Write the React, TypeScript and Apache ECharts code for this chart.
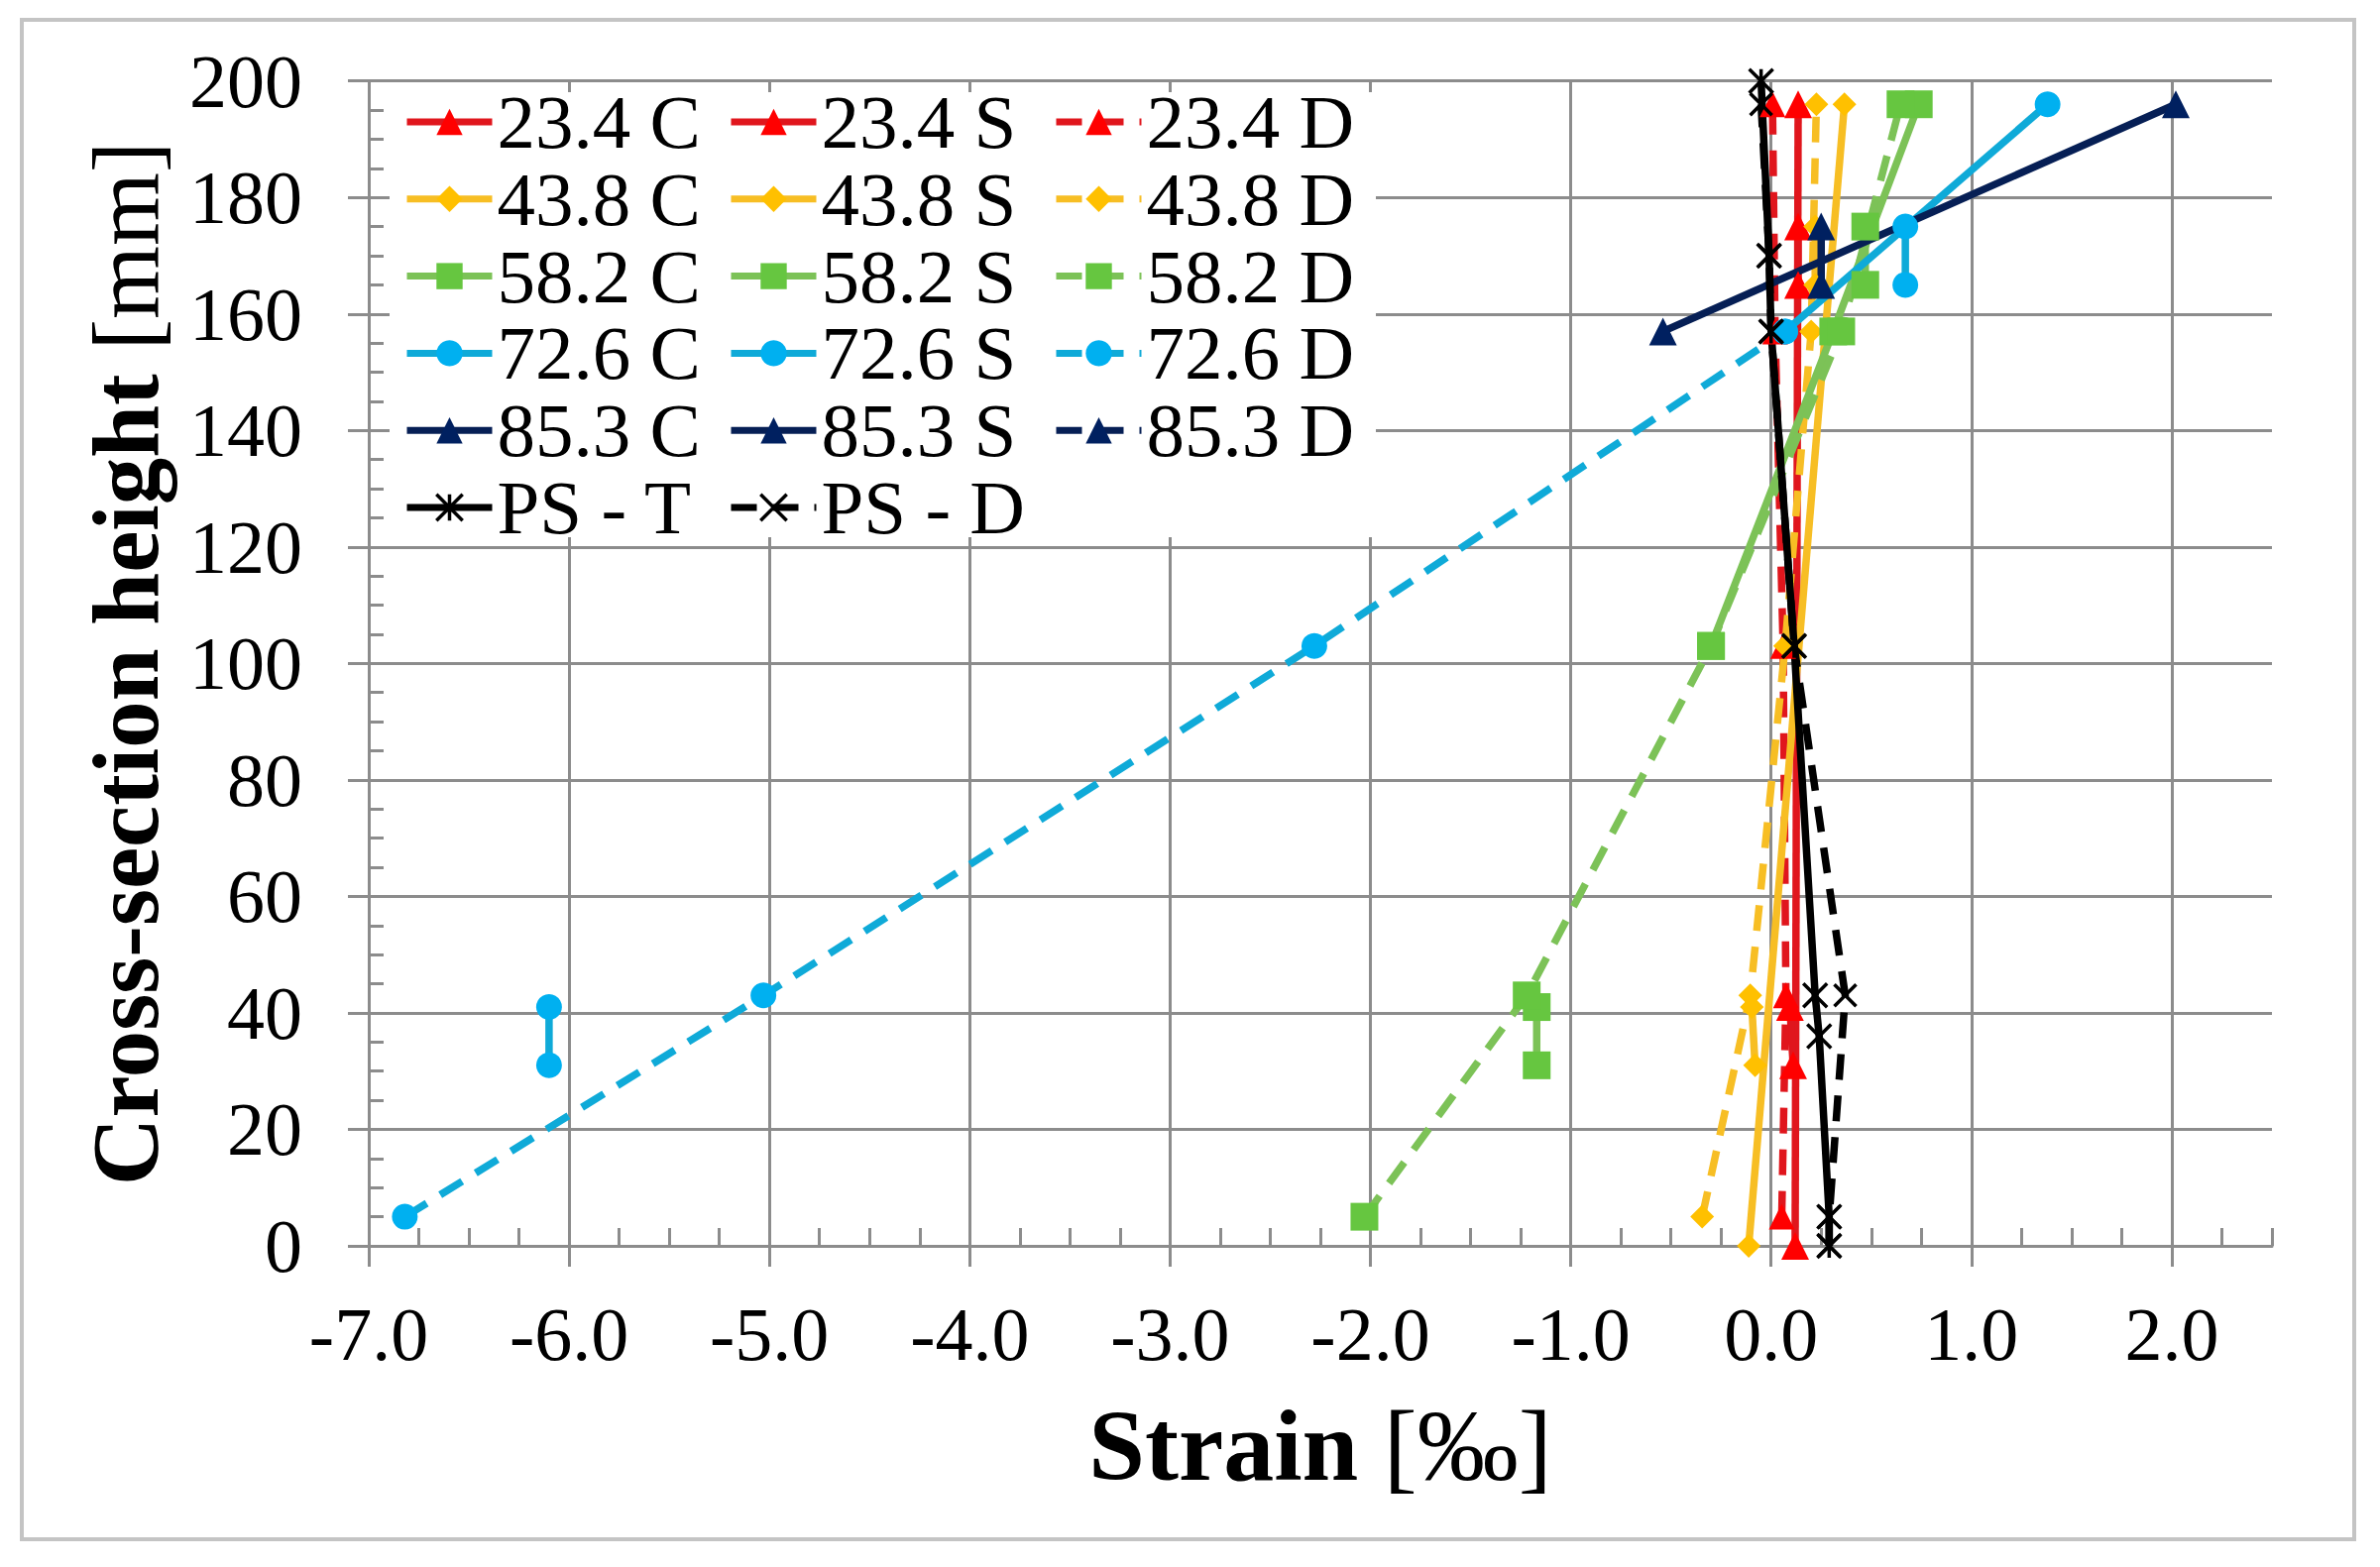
import React, { useEffect, useRef } from "react";
import * as echarts from "echarts";

const FONT = "'Liberation Serif', 'Times New Roman', Times, serif";

// axis ranges and tick labels
const X_MIN = -7;
const X_MAX = 2.5;
const Y_MIN = 0;
const Y_MAX = 200;
const X_MAJOR_TICKS = [-7, -6, -5, -4, -3, -2, -1, 0, 1, 2];

// cross-section heights [mm]
const H_C_FULL = [0, 196];
const H_C_58 = [103, 157, 196];
const H_C_TOP = [157, 196];
const H_S_BOTTOM = [31, 41];
const H_S_TOP = [165, 175];
const H_D = [5, 43, 103, 157, 196];
const H_D_72 = [5, 43, 103, 157];
const H_D_85: number[] = [];
const H_PS_T = [0, 5, 36, 43, 103, 157, 170, 200];
const H_PS_D = [0, 5, 43, 103, 157, 170, 196];

// strains [‰]
const E_23_C = [0.12, 0.135];
const E_23_S_BOTTOM = [0.11, 0.094];
const E_23_S_TOP = [0.135, 0.135];
const E_23_D = [0.053, 0.074, 0.06, 0.02, 0.007];

const E_43_C = [-0.112, 0.366];
const E_43_S_BOTTOM = [-0.08, -0.096];
const E_43_S_TOP = [0.22, 0.22];
const E_43_D = [-0.344, -0.104, 0.07, 0.2, 0.226];

const E_58_C = [-0.3, 0.31, 0.737];
const E_58_S_BOTTOM = [-1.17, -1.17];
const E_58_S_TOP = [0.47, 0.47];
const E_58_D = [-2.03, -1.22, -0.3, 0.35, 0.646];

const E_72_C = [0.07, 1.38];
const E_72_S_BOTTOM = [-6.1, -6.1];
const E_72_S_TOP = [0.67, 0.67];
const E_72_D = [-6.82, -5.03, -2.28, 0.07];

const E_85_C = [-0.54, 2.02];
const E_85_S_TOP = [0.25, 0.25];
const E_85_D: number[] = [];

const E_PS_T = [0.29, 0.29, 0.24, 0.22, 0.115, 0.0, -0.01, -0.05];
const E_PS_D = [0.29, 0.29, 0.37, 0.115, 0.0, -0.01, -0.05];

// legend columns
const LEGEND_COL_1 = ["23.4 C", "43.8 C", "58.2 C", "72.6 C", "85.3 C", "PS - T"];
const LEGEND_COL_2 = ["23.4 S", "43.8 S", "58.2 S", "72.6 S", "85.3 S", "PS - D"];
const LEGEND_COL_3 = ["23.4 D", "43.8 D", "58.2 D", "72.6 D", "85.3 D"];

const RED = "#E0161D";
const RED_M = "#FF0000";
const ORANGE = "#F7BE24";
const ORANGE_M = "#FFC000";
const GREEN = "#7CC257";
const GREEN_M = "#66C640";
const CYAN = "#0FAAD8";
const CYAN_M = "#00B0F0";
const NAVY = "#061F55";
const NAVY_M = "#002060";
const BLACK = "#000000";
const GRID = "#8C8C8C";
const LINE_W = 7.5;
const DASH = [26, 16];

const STAR = "path://M0,0L10,10M10,0L0,10M5,0L5,10";
const CROSS = "path://M0,0L10,10M10,0L0,10";

// one colour per vertical grid line (-7 ... 2, then the 2.5 edge, which stays invisible)
const X_SPLIT_COLORS = [...X_MAJOR_TICKS.map(() => GRID), "rgba(0,0,0,0)"];

function pts(xs: number[], ys: number[]) {
  return xs.map((x, i) => [x, ys[i]]);
}

function mk(
  name: string,
  color: string,
  mcolor: string,
  symbol: string,
  size: number,
  dashed: boolean,
  data: number[][],
  stroked = false
) {
  return {
    type: "line",
    name,
    data,
    symbol,
    symbolSize: size,
    showSymbol: true,
    silent: true,
    lineStyle: { color, width: LINE_W, type: dashed ? DASH : "solid" },
    itemStyle: stroked
      ? { color: mcolor, borderColor: mcolor, borderWidth: 3.5 }
      : { color: mcolor },
    emphasis: { disabled: true },
    xAxisIndex: 0,
    yAxisIndex: 0,
  };
}

function legendCol(left: number, data: string[]) {
  return {
    orient: "vertical",
    left,
    top: 84.5,
    padding: 0,
    itemWidth: 86,
    itemHeight: 33,
    itemGap: 0.8,
    selectedMode: false,
    data,
    lineStyle: { width: 7 },
    itemStyle: { borderWidth: "inherit" },
    textStyle: { fontFamily: FONT, fontSize: 77, color: "#000", lineHeight: 77 },
  };
}

export default function App() {
  const ref = useRef<HTMLDivElement>(null);

  useEffect(() => {
    if (!ref.current) return;
    const chart = echarts.init(ref.current, null, { renderer: "svg" });

    const series = [
      mk("23.4 C", RED, RED_M, "triangle", 28, false, pts(E_23_C, H_C_FULL)),
      mk("23.4 S", RED, RED_M, "triangle", 28, false, pts(E_23_S_BOTTOM, H_S_BOTTOM)),
      mk("23.4 S", RED, RED_M, "triangle", 28, false, pts(E_23_S_TOP, H_S_TOP)),
      mk("23.4 D", RED, RED_M, "triangle", 26, true, pts(E_23_D, H_D)),
      mk("43.8 C", ORANGE, ORANGE_M, "diamond", 24, false, pts(E_43_C, H_C_FULL)),
      mk("43.8 S", ORANGE, ORANGE_M, "diamond", 24, false, pts(E_43_S_BOTTOM, H_S_BOTTOM)),
      mk("43.8 S", ORANGE, ORANGE_M, "diamond", 24, false, pts(E_43_S_TOP, H_S_TOP)),
      mk("43.8 D", ORANGE, ORANGE_M, "diamond", 24, true, pts(E_43_D, H_D)),
      mk("58.2 C", GREEN, GREEN_M, "rect", 28, false, pts(E_58_C, H_C_58)),
      mk("58.2 S", GREEN, GREEN_M, "rect", 28, false, pts(E_58_S_BOTTOM, H_S_BOTTOM)),
      mk("58.2 S", GREEN, GREEN_M, "rect", 28, false, pts(E_58_S_TOP, H_S_TOP)),
      mk("58.2 D", GREEN, GREEN_M, "rect", 28, true, pts(E_58_D, H_D)),
      mk("72.6 C", CYAN, CYAN_M, "circle", 26, false, pts(E_72_C, H_C_TOP)),
      mk("72.6 S", CYAN, CYAN_M, "circle", 26, false, pts(E_72_S_BOTTOM, H_S_BOTTOM)),
      mk("72.6 S", CYAN, CYAN_M, "circle", 26, false, pts(E_72_S_TOP, H_S_TOP)),
      mk("72.6 D", CYAN, CYAN_M, "circle", 26, true, pts(E_72_D, H_D_72)),
      mk("85.3 C", NAVY, NAVY_M, "triangle", 28, false, pts(E_85_C, H_C_TOP)),
      mk("85.3 S", NAVY, NAVY_M, "triangle", 28, false, pts(E_85_S_TOP, H_S_TOP)),
      mk("85.3 D", NAVY, NAVY_M, "triangle", 18, true, pts(E_85_D, H_D_85)),
      mk("PS - T", BLACK, BLACK, STAR, 24, false, pts(E_PS_T, H_PS_T), true),
      mk("PS - D", BLACK, BLACK, CROSS, 22, true, pts(E_PS_D, H_PS_D), true),
    ];

    const option: any = {
      animation: false,
      textStyle: { fontFamily: FONT },
      grid: { left: 372, right: 109, top: 81.7, bottom: 324, containLabel: false },
      xAxis: [
        {
          type: "value",
          position: "bottom",
          min: X_MIN,
          max: X_MAX,
          interval: 1,
          axisLine: { show: true, onZero: false, lineStyle: { color: GRID, width: 3 } },
          axisTick: {
            show: true,
            inside: false,
            length: 21,
            customValues: X_MAJOR_TICKS,
            lineStyle: { color: GRID, width: 3 },
          },
          axisLabel: {
            show: true,
            margin: 51,
            fontFamily: FONT,
            fontSize: 76,
            color: "#000",
            customValues: X_MAJOR_TICKS,
            formatter: (v: number) => (Math.abs(v - X_MAX) < 1e-9 ? "" : v.toFixed(1)),
          },
          splitLine: {
            show: true,
            lineStyle: { color: X_SPLIT_COLORS, width: 3 },
          },
          name: "{b|Strain} {r|[‰]}",
          nameLocation: "middle",
          nameGap: 150,
          nameTextStyle: {
            fontFamily: FONT,
            fontSize: 102,
            color: "#000",
            rich: {
              b: { fontFamily: FONT, fontSize: 102, fontWeight: "bold", color: "#000" },
              r: { fontFamily: FONT, fontSize: 102, fontWeight: "normal", color: "#000" },
            },
          },
        },
        {
          type: "value",
          position: "bottom",
          min: X_MIN,
          max: X_MAX,
          interval: 0.25,
          axisLine: { show: false, onZero: false },
          axisTick: { show: true, inside: true, length: 18, lineStyle: { color: GRID, width: 3 } },
          axisLabel: { show: false },
          splitLine: { show: false },
        },
      ],
      yAxis: [
        {
          type: "value",
          position: "left",
          min: Y_MIN,
          max: Y_MAX,
          interval: 20,
          axisLine: { show: true, onZero: false, lineStyle: { color: GRID, width: 3 } },
          axisTick: { show: true, inside: false, length: 21, lineStyle: { color: GRID, width: 3 } },
          axisLabel: {
            show: true,
            margin: 67,
            fontFamily: FONT,
            fontSize: 76,
            color: "#000",
          },
          splitLine: {
            show: true,
            lineStyle: { color: GRID, width: 3 },
          },
          name: "{b|Cross-section height} {r|[mm]}",
          nameLocation: "middle",
          nameGap: 198,
          nameRotate: 90,
          nameTextStyle: {
            fontFamily: FONT,
            fontSize: 95,
            color: "#000",
            rich: {
              b: { fontFamily: FONT, fontSize: 95, fontWeight: "bold", color: "#000" },
              r: { fontFamily: FONT, fontSize: 95, fontWeight: "normal", color: "#000" },
            },
          },
        },
        {
          type: "value",
          position: "left",
          min: Y_MIN,
          max: Y_MAX,
          interval: 5,
          axisLine: { show: false, onZero: false },
          axisTick: { show: true, inside: true, length: 15, lineStyle: { color: GRID, width: 3 } },
          axisLabel: { show: false },
          splitLine: { show: false },
        },
        {
          type: "value",
          position: "left",
          min: Y_MIN,
          max: Y_MAX,
          interval: 20,
          axisLine: { show: false, onZero: false },
          axisTick: { show: true, inside: true, length: 20, lineStyle: { color: GRID, width: 3 } },
          axisLabel: { show: false },
          splitLine: { show: false },
        },
      ],
      legend: [legendCol(407, LEGEND_COL_1), legendCol(734, LEGEND_COL_2), legendCol(1062, LEGEND_COL_3)],
      graphic: [
        {
          type: "rect",
          silent: true,
          z: 0,
          shape: { x: 22, y: 20, width: 2353, height: 1533 },
          style: { fill: "none", stroke: "#C4C4C4", lineWidth: 4 },
        },
        {
          type: "rect",
          silent: true,
          z: 3,
          shape: { x: 393, y: 93, width: 995, height: 449 },
          style: { fill: "#FFFFFF" },
        },
      ],
      series,
    };

    chart.setOption(option);
    return () => chart.dispose();
  }, []);

  return (
    <div
      ref={ref}
      style={{ position: "absolute", left: 0, top: 0, width: 2401, height: 1581, background: "#fff" }}
    />
  );
}
